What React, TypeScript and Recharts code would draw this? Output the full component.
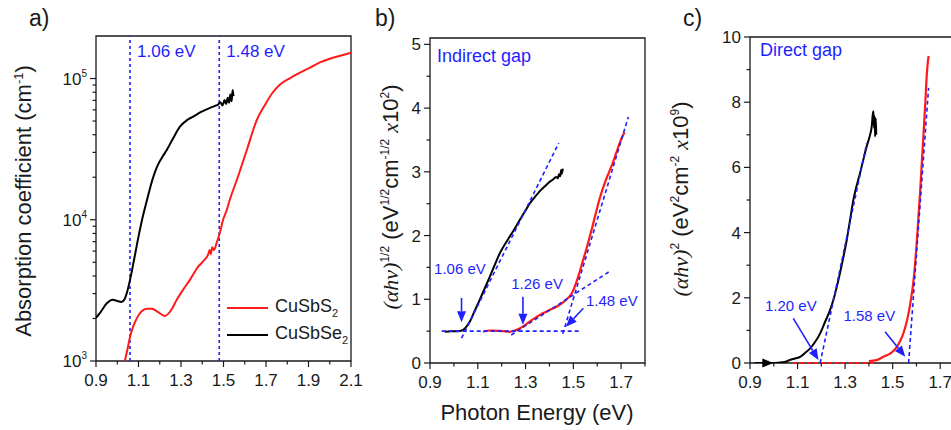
import React from "react";
import {
  LineChart,
  Line,
  XAxis,
  YAxis,
  ReferenceLine,
  ReferenceArea,
  ReferenceDot,
  Legend,
} from "recharts";

const SANS = "'Liberation Sans', Arial, sans-serif";
const SERIF = "'Liberation Serif', 'Times New Roman', serif";
const INK = "#1a1a1a";
const BLUE = "#1f1fff";
const RED = "#ff1a1a";

// ---- a) absorption coefficient, log scale
const aSe2E = [0.9, 0.92, 0.95, 0.98, 1.0, 1.02, 1.035, 1.045, 1.06, 1.08, 1.1, 1.12, 1.14, 1.16, 1.186, 1.21, 1.233, 1.26, 1.295, 1.33, 1.357, 1.39, 1.437, 1.46, 1.475, 1.485, 1.495, 1.505, 1.512, 1.52, 1.526, 1.532, 1.538, 1.543, 1.547];
const aSe2A = [2020, 2200, 2550, 2710, 2660, 2620, 2750, 3030, 3750, 5300, 7600, 10500, 13800, 18000, 23500, 27500, 31200, 37000, 45600, 51000, 53700, 57500, 62000, 64000, 65500, 68000, 64500, 70500, 66000, 73000, 67500, 77000, 69000, 83000, 75000];
const aS2E = [1.036, 1.05, 1.06, 1.075, 1.093, 1.115, 1.14, 1.164, 1.19, 1.225, 1.25, 1.28, 1.31, 1.342, 1.38, 1.405, 1.427, 1.435, 1.44, 1.447, 1.455, 1.468, 1.484, 1.498, 1.516, 1.53, 1.563, 1.61, 1.657, 1.695, 1.73, 1.766, 1.81, 1.86, 1.91, 1.954, 2.0, 2.05, 2.1];
const aS2A = [1000, 1250, 1480, 1750, 2020, 2250, 2340, 2340, 2230, 2085, 2250, 2710, 3200, 3750, 4640, 5100, 5650, 6100, 5700, 6400, 6100, 6870, 8220, 10000, 11800, 13900, 19200, 31300, 51000, 65000, 79000, 90700, 100000, 110000, 120000, 130000, 138000, 145000, 152000];
const aXTicks = [0.9, 1.0, 1.1, 1.2, 1.3, 1.4, 1.5, 1.6, 1.7, 1.8, 1.9, 2.0, 2.1];
const aXLabels = [0.9, 1.1, 1.3, 1.5, 1.7, 1.9, 2.1];
const aYTicks = [1000, 2000, 3000, 4000, 5000, 6000, 7000, 8000, 9000, 10000, 20000, 30000, 40000, 50000, 60000, 70000, 80000, 90000, 100000];
const aYLabels = [1000, 10000, 100000];
const aGaps = [1.06, 1.48];
const aGapLabels = ["1.06 eV", "1.48 eV"];

// ---- b) indirect gap, (a h v)^1/2
const bSe2E = [0.962, 0.99, 1.02, 1.039, 1.05, 1.067, 1.085, 1.108, 1.13, 1.15, 1.17, 1.192, 1.213, 1.233, 1.255, 1.275, 1.296, 1.317, 1.338, 1.358, 1.38, 1.4, 1.415, 1.428, 1.435, 1.44, 1.445, 1.449, 1.452, 1.456];
const bSe2V = [0.49, 0.5, 0.5, 0.52, 0.56, 0.65, 0.8, 0.99, 1.18, 1.35, 1.53, 1.72, 1.86, 1.98, 2.11, 2.24, 2.37, 2.5, 2.6, 2.69, 2.77, 2.84, 2.88, 2.92, 2.9, 2.96, 2.93, 3.03, 2.97, 3.05];
const bS2E = [1.122, 1.15, 1.178, 1.205, 1.233, 1.255, 1.275, 1.296, 1.317, 1.345, 1.372, 1.4, 1.428, 1.45, 1.469, 1.485, 1.497, 1.511, 1.525, 1.539, 1.553, 1.567, 1.58, 1.594, 1.608, 1.622, 1.636, 1.65, 1.664, 1.68, 1.699, 1.714];
const bS2V = [0.49, 0.51, 0.505, 0.5, 0.49, 0.51, 0.54, 0.59, 0.65, 0.72, 0.78, 0.83, 0.88, 0.93, 0.99, 1.05, 1.12, 1.25, 1.41, 1.59, 1.77, 1.96, 2.14, 2.35, 2.55, 2.72, 2.87, 3.0, 3.13, 3.3, 3.5, 3.62];
const bXTicks = [0.9, 1.0, 1.1, 1.2, 1.3, 1.4, 1.5, 1.6, 1.7, 1.8];
const bXLabels = [0.9, 1.1, 1.3, 1.5, 1.7];
const bYTicks = [0, 0.5, 1, 1.5, 2, 2.5, 3, 3.5, 4, 4.5, 5];
const bYLabels = [0, 1, 2, 3, 4, 5];
// fitted tangents: [x1, y1, x2, y2]
const bFits = [
  [0.949, 0.5, 1.525, 0.5],
  [1.032, 0.39, 1.439, 3.45],
  [1.24, 0.44, 1.657, 1.45],
  [1.456, 0.46, 1.73, 3.86],
];
const bArrows = [
  [1.032, 1.02, 1.032, 0.64],
  [1.289, 1.04, 1.289, 0.6],
  [1.542, 0.86, 1.469, 0.57],
];
const bNotes: [number, number, string][] = [
  [0.917, 1.395, "1.06 eV"],
  [1.24, 1.16, "1.26 eV"],
  [1.553, 0.893, "1.48 eV"],
];

// ---- c) direct gap, (a h v)^2
const cSe2E = [0.92, 0.96, 0.99, 1.02, 1.05, 1.068, 1.09, 1.111, 1.13, 1.153, 1.175, 1.195, 1.215, 1.237, 1.255, 1.272, 1.29, 1.307, 1.321, 1.335, 1.349, 1.363, 1.377, 1.391, 1.405, 1.412, 1.416, 1.419, 1.422, 1.424, 1.426, 1.429, 1.431];
const cSe2V = [0, 0, 0, 0.01, 0.04, 0.09, 0.14, 0.19, 0.3, 0.45, 0.66, 0.91, 1.25, 1.63, 2.05, 2.55, 3.15, 3.78, 4.4, 5.01, 5.45, 5.83, 6.25, 6.65, 7.0, 7.26, 7.6, 7.72, 7.2, 7.57, 6.95, 7.5, 7.0];
const cS2E = [1.4, 1.433, 1.461, 1.489, 1.505, 1.518, 1.532, 1.545, 1.556, 1.567, 1.578, 1.588, 1.595, 1.602, 1.609, 1.616, 1.623, 1.63, 1.637, 1.644, 1.651];
const cS2V = [0.06, 0.09, 0.19, 0.29, 0.38, 0.5, 0.68, 0.91, 1.18, 1.53, 2.0, 2.55, 3.1, 3.78, 4.55, 5.32, 6.2, 7.06, 7.95, 8.9, 9.42];
const cXTicks = [0.9, 1.0, 1.1, 1.2, 1.3, 1.4, 1.5, 1.6, 1.7, 1.8];
const cXLabels = [0.9, 1.1, 1.3, 1.5, 1.7];
const cYTicks = [0, 1, 2, 3, 4, 5, 6, 7, 8, 9, 10];
const cYLabels = [0, 2, 4, 6, 8, 10];
const cFits = [
  [1.195, 0, 1.391, 6.75],
  [1.567, 0, 1.651, 8.44],
];
const cArrows = [
  [1.082, 1.37, 1.188, 0.09],
  [1.468, 0.96, 1.553, 0.19],
];
const cNotes: [number, number, string][] = [
  [0.963, 1.6, "1.20 eV"],
  [1.293, 1.29, "1.58 eV"],
];

const zip = (xs: number[], ys: number[]) => xs.map((x, i) => ({ x, y: ys[i] }));
const near = (v: number, list: number[]) =>
  list.some((t) => Math.abs(t - v) < 1e-6 * Math.max(1, Math.abs(t)));

function bottomTick(labels: number[]) {
  return (p: any) => {
    const v = p.payload.value;
    const major = near(v, labels);
    return (
      <g>
        <line x1={p.x} x2={p.x} y1={p.y} y2={p.y + (major ? 6 : 3.5)} stroke={INK} strokeWidth={1.2} />
        {major && (
          <text x={p.x} y={p.y + 25} textAnchor="middle" fontSize={17} fontFamily={SANS} fill={INK}>
            {v.toFixed(1)}
          </text>
        )}
      </g>
    );
  };
}

function leftTick(labels: number[], fmt: (v: number) => React.ReactNode) {
  return (p: any) => {
    const v = p.payload.value;
    const major = near(v, labels);
    return (
      <g>
        <line x1={p.x} x2={p.x - (major ? 6 : 3.5)} y1={p.y} y2={p.y} stroke={INK} strokeWidth={1.2} />
        {major && (
          <text x={p.x - 9} y={p.y + 6} textAnchor="end" fontSize={17} fontFamily={SANS} fill={INK}>
            {fmt(v)}
          </text>
        )}
      </g>
    );
  };
}

const powerLabel = (v: number) => (
  <>
    <tspan>10</tspan>
    <tspan dy={-8} fontSize={10}>
      {Math.round(Math.log10(v))}
    </tspan>
  </>
);

const arrowShape = (color: string, width: number) => (p: any) => {
  const { x1, y1, x2, y2 } = p;
  const a = Math.atan2(y2 - y1, x2 - x1);
  const bx = x2 - 11 * Math.cos(a);
  const by = y2 - 11 * Math.sin(a);
  const nx = -Math.sin(a) * 4.5;
  const ny = Math.cos(a) * 4.5;
  return (
    <g>
      <line x1={x1} y1={y1} x2={bx} y2={by} stroke={color} strokeWidth={width} />
      <polygon points={`${x2},${y2} ${bx + nx},${by + ny} ${bx - nx},${by - ny}`} fill={color} />
    </g>
  );
};

const note = (text: string, size: number) => (p: any) => (
  <text x={p.cx} y={p.cy} fontSize={size} fontFamily={SANS} fill={BLUE}>
    {text}
  </text>
);

const chem = (name: string) => (
  <>
    {name.slice(0, -1)}
    <sub style={{ fontSize: 11 }}>{name.slice(-1)}</sub>
  </>
);

const LegendBox = ({ payload }: any) => (
  <div style={{ fontFamily: SANS, fontSize: 18, color: INK }}>
    {(payload || []).map((e: any) => (
      <div key={e.value} style={{ display: "flex", alignItems: "center", height: 27 }}>
        <span style={{ width: 41, borderTop: `2.5px solid ${e.color}`, marginRight: 7 }} />
        <span>{chem(e.value)}</span>
      </div>
    ))}
  </div>
);

const panelLetter = (x: number, s: string) => (
  <text x={x} y={26} fontSize={23} fontFamily={SANS} fill={INK}>
    {s}
  </text>
);

const fitLine = (f: number[], i: number) => (
  <ReferenceLine
    key={`f${i}`}
    segment={[{ x: f[0], y: f[1] }, { x: f[2], y: f[3] }]}
    stroke={BLUE}
    strokeWidth={1.6}
    strokeDasharray="4 3"
  />
);

const arrowLine = (f: number[], i: number) => (
  <ReferenceLine key={`a${i}`} segment={[{ x: f[0], y: f[1] }, { x: f[2], y: f[3] }]} shape={arrowShape(BLUE, 1.6)} />
);

function PanelA() {
  return (
    <LineChart width={372} height={430} margin={{ top: 36, right: 21, bottom: 0, left: 0 }}>
      <XAxis
        type="number"
        dataKey="x"
        domain={[0.9, 2.1]}
        ticks={aXTicks}
        interval={0}
        allowDataOverflow
        height={69}
        tickSize={0}
        tickMargin={0}
        axisLine={false}
        tickLine={false}
        tick={bottomTick(aXLabels)}
      />
      <YAxis
        type="number"
        scale="log"
        domain={[1000, 200000]}
        ticks={aYTicks}
        interval={0}
        allowDataOverflow
        width={96}
        tickSize={0}
        tickMargin={0}
        axisLine={false}
        tickLine={false}
        tick={leftTick(aYLabels, powerLabel)}
        label={() => (
          <g>
            {panelLetter(29, "a)")}
            <text transform="rotate(-90)" x={-201} y={31} textAnchor="middle" fontSize={22} fontFamily={SANS} fill={INK}>
              Absorption coefficient (cm
              <tspan dy={-8} fontSize={13}>-1</tspan>
              <tspan dy={8}>)</tspan>
            </text>
          </g>
        )}
      />
      <ReferenceArea x1={0.9} x2={2.1} y1={1000} y2={200000} fill="none" stroke={INK} strokeWidth={1.3} />
      {aGaps.map((g) => (
        <ReferenceLine key={g} x={g} stroke={BLUE} strokeWidth={1.6} strokeDasharray="3 3" />
      ))}
      {aGaps.map((g, i) => (
        <ReferenceDot key={`n${g}`} x={g + 0.033} y={141000} r={0} shape={note(aGapLabels[i], 17)} />
      ))}
      <Line data={zip(aS2E, aS2A)} dataKey="y" name="CuSbS2" type="monotone" stroke={RED} strokeWidth={2} dot={false} isAnimationActive={false} />
      <Line data={zip(aSe2E, aSe2A)} dataKey="y" name="CuSbSe2" type="monotone" stroke="#000" strokeWidth={2} dot={false} isAnimationActive={false} />
      <Legend
        layout="vertical"
        align="center"
        verticalAlign="middle"
        wrapperStyle={{ left: 227, top: 294, width: "auto" }}
        content={LegendBox}
      />
    </LineChart>
  );
}

function PanelB() {
  return (
    <LineChart width={300} height={430} margin={{ top: 38, right: 15, bottom: 0, left: 0 }}>
      <XAxis
        type="number"
        dataKey="x"
        domain={[0.9, 1.8]}
        ticks={bXTicks}
        interval={0}
        allowDataOverflow
        height={67}
        tickSize={0}
        tickMargin={0}
        axisLine={false}
        tickLine={false}
        tick={bottomTick(bXLabels)}
        label={() => (
          <text x={177} y={420} textAnchor="middle" fontSize={22} fontFamily={SANS} fill={INK}>
            Photon Energy (eV)
          </text>
        )}
      />
      <YAxis
        type="number"
        domain={[0, 5.1]}
        ticks={bYTicks}
        interval={0}
        allowDataOverflow
        width={70}
        tickSize={0}
        tickMargin={0}
        axisLine={false}
        tickLine={false}
        tick={leftTick(bYLabels, (v) => String(v))}
        label={() => (
          <g>
            {panelLetter(15, "b)")}
            <text transform="rotate(-90)" x={-197} y={38} textAnchor="middle" fontSize={22} fontFamily={SANS} fill={INK}>
              <tspan fontFamily={SERIF} fontStyle="italic">(αhν)</tspan>
              <tspan dy={-9} fontSize={12}>1/2</tspan>
              <tspan dy={9}>{" (eV"}</tspan>
              <tspan dy={-9} fontSize={12}>1/2</tspan>
              <tspan dy={9}>cm</tspan>
              <tspan dy={-9} fontSize={12}>-1/2</tspan>
              <tspan dy={9}>{" "}</tspan>
              <tspan fontFamily={SERIF} fontStyle="italic">x</tspan>
              <tspan>10</tspan>
              <tspan dy={-9} fontSize={12}>2</tspan>
              <tspan dy={9}>)</tspan>
            </text>
          </g>
        )}
      />
      <ReferenceArea x1={0.9} x2={1.8} y1={0} y2={5.1} fill="none" stroke={INK} strokeWidth={1.3} />
      <Line data={zip(bSe2E, bSe2V)} dataKey="y" name="CuSbSe2" type="monotone" stroke="#000" strokeWidth={2} dot={false} isAnimationActive={false} />
      <Line data={zip(bS2E, bS2V)} dataKey="y" name="CuSbS2" type="monotone" stroke={RED} strokeWidth={2.2} dot={false} isAnimationActive={false} />
      {bFits.map(fitLine)}
      {bArrows.map(arrowLine)}
      {bNotes.map(([x, y, t]) => (
        <ReferenceDot key={t} x={x} y={y} r={0} shape={note(t, 15)} />
      ))}
      <ReferenceDot x={0.929} y={4.72} r={0} shape={note("Indirect gap", 18)} />
    </LineChart>
  );
}

function PanelC() {
  return (
    <LineChart width={310} height={430} margin={{ top: 37, right: 6, bottom: 0, left: 0 }}>
      <XAxis
        type="number"
        dataKey="x"
        domain={[0.9, 1.8]}
        ticks={cXTicks}
        interval={0}
        allowDataOverflow
        height={67}
        tickSize={0}
        tickMargin={0}
        axisLine={false}
        tickLine={false}
        tick={bottomTick(cXLabels)}
      />
      <YAxis
        type="number"
        domain={[0, 10]}
        ticks={cYTicks}
        interval={0}
        allowDataOverflow
        width={90}
        tickSize={0}
        tickMargin={0}
        axisLine={false}
        tickLine={false}
        tick={leftTick(cYLabels, (v) => String(v))}
        label={() => (
          <g>
            {panelLetter(23, "c)")}
            <text transform="rotate(-90)" x={-199} y={28} textAnchor="middle" fontSize={22} fontFamily={SANS} fill={INK}>
              <tspan fontFamily={SERIF} fontStyle="italic">(αhν)</tspan>
              <tspan dy={-9} fontSize={12}>2</tspan>
              <tspan dy={9}>{" (eV"}</tspan>
              <tspan dy={-9} fontSize={12}>2</tspan>
              <tspan dy={9}>cm</tspan>
              <tspan dy={-9} fontSize={12}>-2</tspan>
              <tspan dy={9}>{" "}</tspan>
              <tspan fontFamily={SERIF} fontStyle="italic">x</tspan>
              <tspan>10</tspan>
              <tspan dy={-9} fontSize={12}>9</tspan>
              <tspan dy={9}>)</tspan>
            </text>
          </g>
        )}
      />
      <ReferenceArea x1={0.9} x2={1.8} y1={0} y2={10} fill="none" stroke={INK} strokeWidth={1.3} />
      <ReferenceLine segment={[{ x: 1.08, y: 0 }, { x: 1.42, y: 0 }]} stroke={RED} strokeWidth={2} strokeDasharray="4 3" />
      <Line data={zip(cSe2E, cSe2V)} dataKey="y" name="CuSbSe2" type="monotone" stroke="#000" strokeWidth={2} dot={false} isAnimationActive={false} />
      <Line data={zip(cS2E, cS2V)} dataKey="y" name="CuSbS2" type="monotone" stroke={RED} strokeWidth={2.2} dot={false} isAnimationActive={false} />
      <ReferenceLine segment={[{ x: 0.95, y: 0 }, { x: 0.998, y: 0 }]} shape={arrowShape("#000", 2)} />
      {cFits.map(fitLine)}
      {cArrows.map(arrowLine)}
      {cNotes.map(([x, y, t]) => (
        <ReferenceDot key={t} x={x} y={y} r={0} shape={note(t, 15)} />
      ))}
      <ReferenceDot x={0.942} y={9.43} r={0} shape={note("Direct gap", 18)} />
    </LineChart>
  );
}

export default function App() {
  return (
    <div style={{ position: "fixed", left: 0, top: 0, width: 951, height: 430, overflow: "hidden", background: "#fff" }}>
      <div style={{ position: "absolute", left: 0, top: 0 }}>
        <PanelA />
      </div>
      <div style={{ position: "absolute", left: 360, top: 0 }}>
        <PanelB />
      </div>
      <div style={{ position: "absolute", left: 660, top: 0 }}>
        <PanelC />
      </div>
    </div>
  );
}
